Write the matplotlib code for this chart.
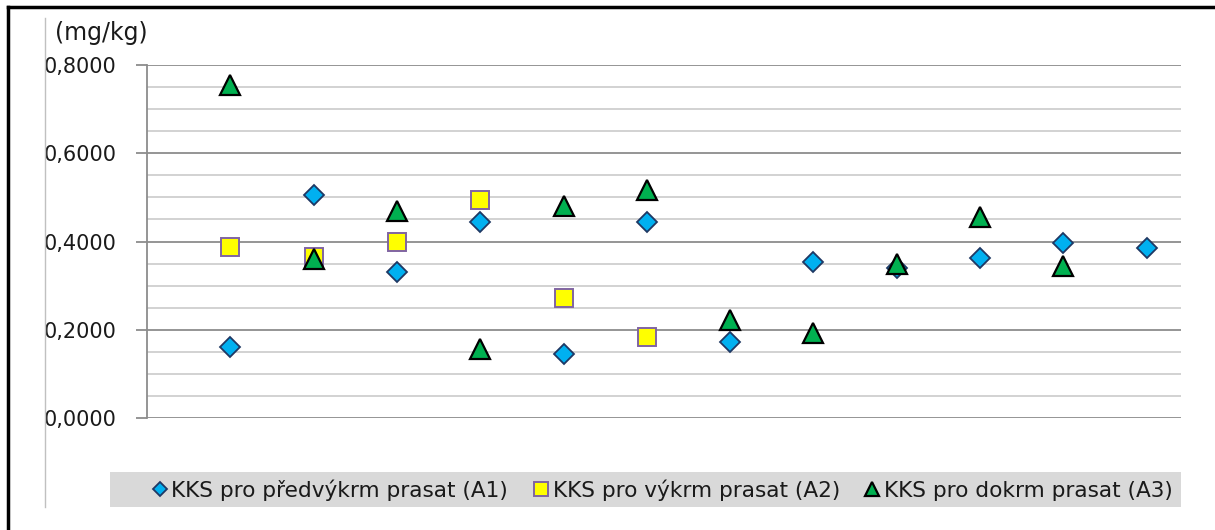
import matplotlib
matplotlib.use("Agg")
import matplotlib.pyplot as plt
from matplotlib.lines import Line2D
from matplotlib.patches import Rectangle
import numpy as np

plt.rcParams['font.family'] = ['DejaVu Sans']

x_a1 = [1, 2, 3, 4, 5, 6, 7, 8, 9, 10, 11, 12]
a1 = [0.161, 0.505, 0.331, 0.444, 0.145, 0.444, 0.172, 0.354, 0.340, 0.363, 0.397, 0.385]
x_a2 = [1, 2, 3, 4, 5, 6]
a2 = [0.388, 0.365, 0.399, 0.494, 0.272, 0.184]
x_a3 = [1, 2, 3, 4, 5, 6, 7, 8, 9, 10, 11]
a3 = [0.755, 0.360, 0.469, 0.156, 0.480, 0.517, 0.222, 0.193, 0.349, 0.456, 0.344]
labels = ["KKS pro předvýkrm prasat (A1)", "KKS pro výkrm prasat (A2)", "KKS pro dokrm prasat (A3)"]
yticks = [0.0, 0.2, 0.4, 0.6, 0.8]
ytick_labels = ["0,0000", "0,2000", "0,4000", "0,6000", "0,8000"]

W, H = 1215, 530
fig = plt.figure(figsize=(W / 100, H / 100), dpi=100)

def fx(px):
    return px / W

def fy(py):
    return 1 - py / H

# outer frame lines
fig.add_artist(Line2D([fx(8), fx(8)], [fy(7), 0], color='black', lw=2.5))
fig.add_artist(Line2D([fx(8), 1], [fy(7), fy(7)], color='black', lw=2.5))
fig.add_artist(Line2D([fx(45), fx(45)], [fy(18), fy(507)], color='#c0c0c0', lw=1))

ax = fig.add_axes([fx(147), fy(418), fx(1181) - fx(147), (418 - 65) / H])
ax.set_ylim(0, 0.8)
ax.set_xlim(0, (1181 - 147) / 83.3)

for y in np.arange(0.05, 0.8001, 0.05):
    major = abs(round(y / 0.2) * 0.2 - y) < 1e-6
    ax.axhline(y, color='#8c8c8c' if major else '#cfcfcf', lw=1.3, zorder=0)
ax.axhline(0, color='#8c8c8c', lw=1.3, zorder=0)

ax.plot(x_a1, a1, linestyle='none', marker='D', markersize=10,
        markerfacecolor='#00B0F0', markeredgecolor='#1F3864', markeredgewidth=1.3,
        zorder=3, label=labels[0])
ax.plot(x_a2, a2, linestyle='none', marker='s', markersize=13,
        markerfacecolor='#FFFF00', markeredgecolor='#8064A2', markeredgewidth=1.4,
        zorder=2, label=labels[1])
ax.plot(x_a3, a3, linestyle='none', marker='^', markersize=14,
        markerfacecolor='#00B050', markeredgecolor='black', markeredgewidth=1.6,
        zorder=4, label=labels[2])

for s in ['top', 'right', 'bottom']:
    ax.spines[s].set_visible(False)
ax.spines['left'].set_color('#8c8c8c')
ax.spines['left'].set_linewidth(1.3)
ax.set_yticks(yticks)
ax.set_yticklabels(ytick_labels, fontsize=15, color='#1a1a1a')
ax.tick_params(axis='y', length=8, width=1.3, color='#8c8c8c', pad=14)
ax.set_xticks([])

fig.text(fx(55), fy(33), "(mg/kg)", fontsize=17, color='#1a1a1a', va='center', ha='left')

# legend background
fig.add_artist(Rectangle((fx(110), fy(507)), fx(1181) - fx(110), (507 - 472) / H,
                         facecolor='#d9d9d9', edgecolor='none', zorder=0))
handles, lbls = ax.get_legend_handles_labels()
leg = fig.legend(handles, lbls, loc='center', bbox_to_anchor=(fx(663), fy(490)),
                 ncol=3, frameon=False, fontsize=15.6, handlelength=0.6,
                 handletextpad=0.25, columnspacing=1.2, markerscale=0.75,
                 labelcolor='#1a1a1a')

fig.savefig("out.png", dpi=100)
